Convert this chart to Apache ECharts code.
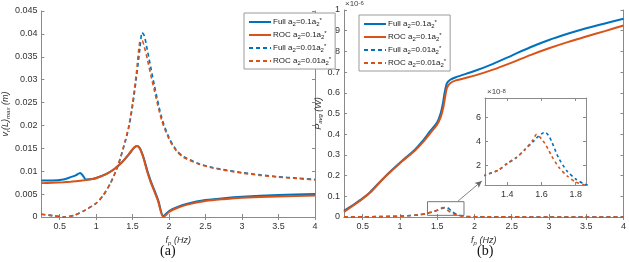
<!DOCTYPE html>
<html><head><meta charset="utf-8">
<script src="https://cdn.jsdelivr.net/npm/echarts@6/dist/echarts.min.js"></script>
<style>html,body{margin:0;padding:0;background:#fff}#c{width:629px;height:262px}</style>
</head><body><div id="c"></div>
<script>
// ---------- data ----------
const seriesNames = ['Full a2=0.1a2*', 'ROC a2=0.1a2*', 'Full a2=0.01a2*', 'ROC a2=0.01a2*'];
const xTicks = [0.5, 1, 1.5, 2, 2.5, 3, 3.5, 4];
const insetXTicks = [1.4, 1.6, 1.8];
const insetYTicks = [2, 4, 6];

// (a) v_r(L)_max, a2 = 0.1 a2*
const vX = [0.25,0.4,0.55,0.65,0.72,0.78,0.82,0.86,0.95,1.05,1.15,1.25,1.35,1.45,1.52,1.56,1.6,1.65,1.7,1.75,1.8,1.85,1.92,2.0,2.1,2.25,2.5,2.75,3.0,3.5,4.0];
const vFull = [0.0080,0.0080,0.0082,0.0087,0.0091,0.0096,0.0090,0.0082,0.0083,0.0088,0.0095,0.0105,0.0119,0.0137,0.0151,0.0155,0.0150,0.0130,0.0102,0.0078,0.0058,0.0037,0.0002,0.0013,0.0021,0.0029,0.0037,0.0041,0.0044,0.0048,0.0050];
const vRoc  = [0.0074,0.0075,0.0076,0.0077,0.0078,0.0079,0.0080,0.0081,0.0083,0.0088,0.0095,0.0105,0.0119,0.0138,0.0152,0.0155,0.0149,0.0128,0.0099,0.0075,0.0055,0.0034,0.0000,0.0011,0.0019,0.0027,0.0035,0.0039,0.0042,0.0045,0.0047];
// (a) a2 = 0.01 a2*
const vdX = [0.25,0.4,0.55,0.7,0.85,1.0,1.1,1.2,1.3,1.4,1.45,1.5,1.55,1.6,1.63,1.66,1.7,1.75,1.8,1.9,2.0,2.1,2.2,2.4,2.6,2.8,3.0,3.25,3.5,3.75,4.0];
const vdFull = [0.0006,0.0003,0.0000,0.0004,0.0015,0.0030,0.0048,0.0075,0.0112,0.0165,0.0197,0.0243,0.0302,0.0368,0.0403,0.0396,0.0366,0.0326,0.0286,0.0216,0.0173,0.0146,0.0132,0.0117,0.0108,0.0102,0.0097,0.0092,0.0088,0.0085,0.0082];
const vdRoc  = [0.0006,0.0003,0.0000,0.0004,0.0015,0.0030,0.0048,0.0075,0.0113,0.0168,0.0201,0.0250,0.0312,0.0384,0.0385,0.0372,0.0346,0.0310,0.0275,0.0210,0.0170,0.0144,0.0130,0.0116,0.0107,0.0101,0.0096,0.0091,0.0087,0.0084,0.0081];

// (b) P_avg (x1e-6 W), a2 = 0.1 a2*
const pX = [0.25,0.4,0.5,0.6,0.8,1.0,1.2,1.3,1.4,1.5,1.55,1.58,1.6,1.63,1.67,1.75,2.0,2.25,2.5,2.75,3.0,3.25,3.5,3.75,4.0];
const pFull = [0.030,0.065,0.090,0.120,0.195,0.262,0.325,0.365,0.412,0.458,0.505,0.555,0.600,0.645,0.662,0.675,0.705,0.740,0.780,0.820,0.855,0.885,0.912,0.935,0.958];
const pRoc  = [0.025,0.062,0.088,0.118,0.193,0.260,0.320,0.358,0.402,0.447,0.485,0.525,0.565,0.622,0.645,0.660,0.683,0.712,0.746,0.782,0.815,0.845,0.872,0.898,0.925];
// (b) a2 = 0.01 a2*  (x1e-8 W)
const pdX = [0.25,0.5,0.75,1.0,1.1,1.2,1.27,1.35,1.4,1.45,1.5,1.55,1.57,1.6,1.62,1.64,1.66,1.7,1.75,1.8,1.85,1.9,2.0,2.2,2.5,3.0,3.5,4.0];
const pdFull = [0.05,0.10,0.20,0.40,0.60,0.85,1.17,1.60,2.15,2.60,3.25,3.95,4.25,4.60,4.75,4.50,3.95,2.60,1.50,0.85,0.43,0.25,0.12,0.06,0.04,0.03,0.02,0.02];
const pdRoc  = [0.05,0.10,0.20,0.40,0.60,0.85,1.17,1.60,2.15,2.60,3.25,4.10,4.55,4.20,3.80,3.30,2.75,1.85,1.10,0.60,0.35,0.20,0.10,0.05,0.04,0.03,0.02,0.02];

// zoom box and arrow (data coords of panel b)
const zoomBox = [[1.37, 0.008], [1.86, 0.074]];
const arrowLine = [[1.78, 0.077], [2.10, 0.174]];

// ---------- helpers ----------
const zip = (xs, ys, k) => xs.map((x, i) => [x, ys[i] * (k || 1)]);
const BLUE = '#0072BD', ORANGE = '#D95319';
const FONT = 'Liberation Sans';
const AX = '#8a8a8a';

function legendRich(name) {
  const p = name.split(' ');
  const v = p[1].replace('a2=', '').replace('a2*', '');
  return p[0] + ' a{s|2}=' + v + 'a{s|2}{p|*}';
}
const legendCommon = {
  orient: 'vertical', itemWidth: 22, itemHeight: 8, itemGap: 3,
  backgroundColor: '#fff', borderColor: '#9a9a9a', borderWidth: 1, padding: [4, 4, 3, 4],
  itemStyle: { opacity: 0 },
  formatter: legendRich,
  textStyle: { fontFamily: FONT, fontSize: 8, color: '#222', padding: [0, 0, 0, -3],
    rich: { s: { fontSize: 6, verticalAlign: 'bottom', padding: [4, 0, 0, 0], fontFamily: FONT, color: '#222' },
            p: { fontSize: 6, verticalAlign: 'top', padding: [0, 0, 4, 0], fontFamily: FONT, color: '#222' } } },
  data: seriesNames
};

function xAx(grid, min, max, ticks, show, extra) {
  return Object.assign({
    type: 'value', gridIndex: grid, min: min, max: max, position: show ? 'bottom' : 'top',
    axisLine: { show: true, lineStyle: { color: AX, width: 1 } },
    axisTick: { show: true, inside: true, length: 3, customValues: ticks, lineStyle: { color: AX } },
    axisLabel: { show: show, customValues: ticks, fontFamily: FONT, fontSize: 9, color: '#333', margin: 5 },
    splitLine: { show: false }
  }, extra || {});
}
function yAx(grid, min, max, interval, ticks, show, extra) {
  const o = {
    type: 'value', gridIndex: grid, min: min, max: max, position: show ? 'left' : 'right',
    axisLine: { show: true, lineStyle: { color: AX, width: 1 } },
    axisTick: { show: true, inside: true, length: 3, lineStyle: { color: AX } },
    axisLabel: { show: show, fontFamily: FONT, fontSize: 9, color: '#333', margin: 4 },
    splitLine: { show: false }
  };
  if (interval) o.interval = interval;
  if (ticks) { o.axisTick.customValues = ticks; o.axisLabel.customValues = ticks; }
  return Object.assign(o, extra || {});
}
const nameRich = {
  i: { fontFamily: FONT, fontStyle: 'italic', fontSize: 9, color: '#333' },
  s: { fontFamily: FONT, fontStyle: 'italic', fontSize: 6, color: '#333', verticalAlign: 'bottom', padding: [5, 0, 0, 0] }
};

function line(name, data, color, dashed, xi, yi, extra) {
  return Object.assign({
    type: 'line', name: name, data: data, xAxisIndex: xi, yAxisIndex: yi,
    showSymbol: false, symbol: 'none', smooth: 0.25,
    lineStyle: dashed ? { color: color, width: 1.6, type: [4, 3] } : { color: color, width: 2 },
    itemStyle: { color: color }, clip: true, animation: false
  }, extra || {});
}

const chart = echarts.init(document.getElementById('c'), null, { renderer: 'canvas' });
chart.setOption({
  animation: false,
  backgroundColor: '#fff',
  grid: [
    { left: 32, top: 11, width: 283, height: 206 },
    { left: 344, top: 10, width: 281, height: 207 },
    { left: 485, top: 98, width: 101, height: 87, show: true, backgroundColor: '#fff', borderWidth: 0, z: 5 }
  ],
  legend: [
    Object.assign({}, legendCommon, { left: 244, top: 13 }),
    Object.assign({}, legendCommon, { left: 359, top: 15 })
  ],
  xAxis: [
    xAx(0, 0.25, 4, xTicks, true, { name: '{i|f}{s|p}{i| (Hz)}', nameLocation: 'middle', nameGap: 17, nameTextStyle: { rich: nameRich } }),
    xAx(0, 0.25, 4, xTicks, false),
    xAx(1, 0.25, 4, xTicks, true, { name: '{i|f}{s|p}{i| (Hz)}', nameLocation: 'middle', nameGap: 17, nameTextStyle: { rich: nameRich } }),
    xAx(1, 0.25, 4, xTicks, false),
    xAx(2, 1.27, 1.86, insetXTicks, true, { z: 6 }),
    xAx(2, 1.27, 1.86, insetXTicks, false, { z: 6 })
  ],
  yAxis: [
    yAx(0, 0, 0.045, 0.005, null, true, { name: '{i|v}{s|r}{i|(L)}{s|max}{i| (m)}', nameLocation: 'middle', nameGap: 24, nameRotate: 90, nameTextStyle: { rich: nameRich } }),
    yAx(0, 0, 0.045, 0.005, null, false),
    yAx(1, 0, 1, 0.1, null, true, { name: '{i|P}{s|avg}{i| (W)}', nameLocation: 'middle', nameGap: 16, nameRotate: 90, nameTextStyle: { rich: nameRich } }),
    yAx(1, 0, 1, 0.1, null, false),
    yAx(2, 0.35, 7.6, null, insetYTicks, true, { z: 6 }),
    yAx(2, 0.35, 7.6, null, insetYTicks, false, { z: 6 })
  ],
  series: [
    line(seriesNames[0], zip(vX, vFull), BLUE, false, 0, 0),
    line(seriesNames[1], zip(vX, vRoc), ORANGE, false, 0, 0),
    line(seriesNames[2], zip(vdX, vdFull), BLUE, true, 0, 0),
    line(seriesNames[3], zip(vdX, vdRoc), ORANGE, true, 0, 0),

    line(seriesNames[0], zip(pX, pFull), BLUE, false, 2, 2),
    line(seriesNames[1], zip(pX, pRoc), ORANGE, false, 2, 2),
    line(seriesNames[2], zip(pdX, pdFull, 0.01), BLUE, true, 2, 2),
    line(seriesNames[3], zip(pdX, pdRoc, 0.01), ORANGE, true, 2, 2, {
      markArea: { silent: true, itemStyle: { color: 'rgba(0,0,0,0)', borderColor: '#777', borderWidth: 1 },
        data: [[{ coord: zoomBox[0] }, { coord: zoomBox[1] }]] },
      markLine: { silent: true, symbol: ['none', 'arrow'], symbolSize: [5, 7],
        lineStyle: { color: '#666', width: 0.8, type: 'solid' }, label: { show: false },
        data: [[{ coord: arrowLine[0] }, { coord: arrowLine[1] }]] }
    }),

    line(seriesNames[2], zip(pdX, pdFull), BLUE, true, 4, 4, { z: 7, lineStyle: { color: BLUE, width: 1.6, type: [3, 3] } }),
    line(seriesNames[3], zip(pdX, pdRoc), ORANGE, true, 4, 4, { z: 7, lineStyle: { color: ORANGE, width: 1.6, type: [3, 3] } })
  ],
  graphic: [
    { type: 'text', left: 345, top: 0, style: { text: '×10{e|-6}', font: '8px "Liberation Sans"', fill: '#444', rich: { e: { fontSize: 6, verticalAlign: 'top', fill: '#444', fontFamily: FONT } } } },
    { type: 'text', left: 487, top: 88, z: 10, style: { text: '×10{e|-8}', font: '8px "Liberation Sans"', fill: '#444', rich: { e: { fontSize: 6, verticalAlign: 'top', fill: '#444', fontFamily: FONT } } } },
    { type: 'text', left: 160, top: 244, style: { text: '(a)', font: '14px "Liberation Serif"', fill: '#111' } },
    { type: 'text', left: 477, top: 244, style: { text: '(b)', font: '14px "Liberation Serif"', fill: '#111' } }
  ]
});
</script>
</body></html>
